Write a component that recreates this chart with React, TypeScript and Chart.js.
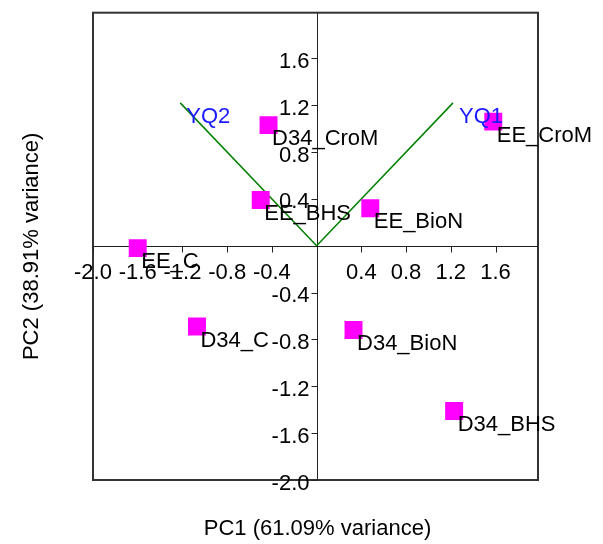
import React, { useEffect, useRef } from "react";
import { Chart, registerables } from "chart.js";

Chart.register(...registerables);

// ---- data ----
const sampleNames = ["EE_C", "D34_CroM", "EE_BHS", "EE_BioN", "EE_CroM", "D34_C", "D34_BioN", "D34_BHS"];
const pc1Scores = [-1.6, -0.43, -0.5, 0.48, 1.58, -1.07, 0.33, 1.23];
const pc2Scores = [-0.02, 1.03, 0.39, 0.32, 1.06, -0.69, -0.72, -1.41];

const loadingNames = ["YQ1", "YQ2"];
const loadingPC1 = [1.22, -1.22];
const loadingPC2 = [1.22, 1.22];

const xTickValues = [-2.0, -1.6, -1.2, -0.8, -0.4, 0.4, 0.8, 1.2, 1.6];
const yTickValues = [1.6, 1.2, 0.8, 0.4, -0.4, -0.8, -1.2, -1.6, -2.0];

const xTitle = "PC1 (61.09% variance)";
const yTitle = "PC2 (38.91% variance)";

const FONT = "22px 'Liberation Sans', Arial, sans-serif";

const biplotPlugin = {
  id: "biplot",
  beforeDatasetsDraw(chart: any) {
    const { ctx, chartArea: a, scales } = chart;
    const xs = scales.x;
    const ys = scales.y;
    const x0 = Math.round(xs.getPixelForValue(0)) + 0.5;
    const y0 = Math.round(ys.getPixelForValue(0)) + 0.5;
    ctx.save();
    // frame
    ctx.strokeStyle = "#333";
    ctx.lineWidth = 2;
    ctx.strokeRect(a.left, a.top, a.right - a.left, a.bottom - a.top);
    // centre axes
    ctx.strokeStyle = "#222";
    ctx.lineWidth = 1;
    ctx.beginPath();
    ctx.moveTo(a.left, y0);
    ctx.lineTo(a.right, y0);
    ctx.moveTo(x0, a.top);
    ctx.lineTo(x0, a.bottom);
    for (const v of xTickValues) {
      const px = Math.round(xs.getPixelForValue(v)) + 0.5;
      ctx.moveTo(px, y0);
      ctx.lineTo(px, y0 + 6);
    }
    for (const v of yTickValues) {
      const py = Math.round(ys.getPixelForValue(v)) + 0.5;
      ctx.moveTo(x0 - 6, py);
      ctx.lineTo(x0, py);
    }
    ctx.stroke();
    // tick labels
    ctx.fillStyle = "#000";
    ctx.font = FONT;
    ctx.textBaseline = "alphabetic";
    ctx.textAlign = "center";
    for (const v of xTickValues) {
      ctx.fillText(v.toFixed(1), xs.getPixelForValue(v), y0 + 32);
    }
    ctx.textAlign = "right";
    for (const v of yTickValues) {
      ctx.fillText(v.toFixed(1), x0 - 8, ys.getPixelForValue(v) + 9.5);
    }
    ctx.restore();
  },
  afterDatasetsDraw(chart: any) {
    const { ctx, chartArea: a, scales } = chart;
    const xs = scales.x;
    const ys = scales.y;
    ctx.save();
    ctx.font = FONT;
    ctx.textBaseline = "alphabetic";
    ctx.textAlign = "left";
    ctx.fillStyle = "#000";
    sampleNames.forEach((n, i) => {
      ctx.fillText(n, xs.getPixelForValue(pc1Scores[i]) + 3.5, ys.getPixelForValue(pc2Scores[i]) + 20);
    });
    ctx.fillStyle = "#1a1aff";
    loadingNames.forEach((n, i) => {
      ctx.fillText(n, xs.getPixelForValue(loadingPC1[i]) + 6, ys.getPixelForValue(loadingPC2[i]) + 20);
    });
    // axis titles
    ctx.fillStyle = "#000";
    ctx.textAlign = "center";
    ctx.fillText(xTitle, (a.left + a.right) / 2 + 2, 535);
    ctx.translate(38, (a.top + a.bottom) / 2);
    ctx.rotate(-Math.PI / 2);
    ctx.fillText(yTitle, 0, 0);
    ctx.restore();
  },
};

export default function App() {
  const ref = useRef<HTMLCanvasElement | null>(null);
  useEffect(() => {
    if (!ref.current) return;
    const chart = new Chart(ref.current, {
      type: "scatter",
      data: {
        datasets: [
          {
            label: "samples",
            data: sampleNames.map((_, i) => ({ x: pc1Scores[i], y: pc2Scores[i] })),
            pointStyle: "rect",
            pointRadius: 12.7,
            backgroundColor: "#ff00ff",
            borderWidth: 0,
          },
          ...loadingNames.map((n, i) => ({
            label: n,
            data: [
              { x: 0, y: 0 },
              { x: loadingPC1[i], y: loadingPC2[i] },
            ],
            showLine: true,
            pointRadius: 0,
            borderColor: "#008000",
            borderWidth: 1.5,
          })),
        ],
      },
      options: {
        animation: false,
        responsive: false,
        events: [],
        layout: { padding: { left: 93, top: 8, right: 65, bottom: 64 } },
        plugins: { legend: { display: false }, tooltip: { enabled: false } },
        scales: {
          x: { type: "linear", min: -2.0, max: 1.98, display: false },
          y: { type: "linear", min: -2.0, max: 1.99, display: false },
        },
      },
      plugins: [biplotPlugin],
    } as any);
    return () => chart.destroy();
  }, []);
  return (
    <div style={{ position: "absolute", left: 0, top: 0, width: 603, height: 544, background: "#fff" }}>
      <canvas ref={ref} width={603} height={544} style={{ width: 603, height: 544, display: "block" }} />
    </div>
  );
}
